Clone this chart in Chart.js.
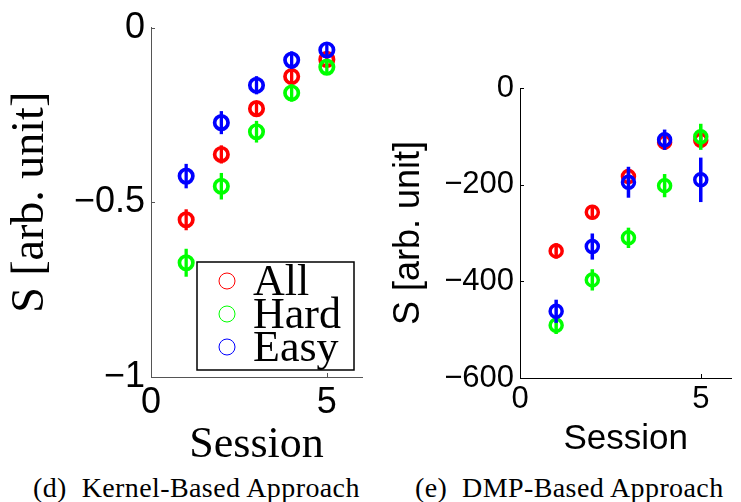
<!DOCTYPE html>
<html>
<head>
<meta charset="utf-8">
<script src="https://cdn.jsdelivr.net/npm/chart.js@4.4.0/dist/chart.umd.min.js"></script>
<style>
  body { margin: 0; background: #fff; }
  #wrap { position: relative; width: 741px; height: 502px; overflow: hidden; background: #fff; }
  canvas { position: absolute; top: 0; }
  #kernel { left: 0; }
  #dmp { left: 380px; }
  .caption { position: absolute; top: 474px; font-family: "Liberation Serif", serif; font-size: 28px;
             line-height: 28px; letter-spacing: 0.4px; white-space: pre; color: #000; }
</style>
</head>
<body>
<div id="wrap">
  <canvas id="kernel" width="375" height="467"></canvas>
  <canvas id="dmp" width="361" height="467"></canvas>
  <div class="caption" style="left:33px">(d)  Kernel-Based Approach</div>
  <div class="caption" style="left:415px">(e)  DMP-Based Approach</div>
</div>
<script>
// --- DATA ---
const sessions = [1, 2, 3, 4, 5];
const seriesNames = ["All", "Hard", "Easy"];

// (d) Kernel-Based
const kernelAll = [-0.55, -0.363, -0.232, -0.14, -0.091];
const kernelHard = [-0.673, -0.454, -0.298, -0.187, -0.113];
const kernelEasy = [-0.425, -0.272, -0.165, -0.093, -0.064];
const kernelAllErr = [0.030, 0.026, 0.020, 0.024, 0.019];
const kernelHardErr = [0.040, 0.038, 0.031, 0.025, 0.021];
const kernelEasyErr = [0.035, 0.033, 0.026, 0.025, 0.021];
const kernelYTicks = [-1, -0.5, 0];
const kernelYLabels = ["\u22121", "\u22120.5", "0"];

// (e) DMP-Based
const dmpAll = [-337, -257, -183, -112, -108];
const dmpHard = [-491, -397, -310, -202, -101];
const dmpEasy = [-462, -328, -195, -107, -190];
const dmpAllErr = [16, 15, 16, 16, 15];
const dmpHardErr = [18, 22, 21, 24, 27];
const dmpEasyErr = [24, 27, 32, 21, 46];
const dmpYTicks = [-600, -400, -200, 0];
const dmpYLabels = ["\u2212600", "\u2212400", "\u2212200", "0"];

const xTicks = [0, 5];
const xLabels = ["0", "5"];

const colors = ["#ff0000", "#00ff00", "#0000ff"];

// --- PLUGINS ---
// vertical error bars, drawn just under each dataset's circles
const errorBars = {
    id: "errorBars",
    beforeDatasetDraw(chart, args) {
        const ds = chart.data.datasets[args.index];
        if (!ds.errors) return;
        const { x, y } = chart.scales;
        const ctx = chart.ctx;
        ctx.save();
        ctx.strokeStyle = ds.borderColor;
        ctx.lineWidth = ds.errorWidth;
        ds.data.forEach((p, i) => {
            const px = x.getPixelForValue(p.x);
            ctx.beginPath();
            ctx.moveTo(px, y.getPixelForValue(p.y - ds.errors[i]));
            ctx.lineTo(px, y.getPixelForValue(p.y + ds.errors[i]));
            ctx.stroke();
        });
        ctx.restore();
    }
};

// small inward tick marks like matlab
const innerTicks = {
    id: "innerTicks",
    afterDraw(chart) {
        const { x, y } = chart.scales;
        const a = chart.chartArea;
        const ctx = chart.ctx;
        ctx.save();
        ctx.strokeStyle = chart.options.scales.y.border.color;
        ctx.lineWidth = 1;
        y.ticks.forEach(t => {
            const py = Math.round(y.getPixelForValue(t.value)) + 0.5;
            ctx.beginPath(); ctx.moveTo(a.left, py); ctx.lineTo(a.left + 4, py); ctx.stroke();
        });
        x.ticks.forEach(t => {
            const px = Math.round(x.getPixelForValue(t.value)) + 0.5;
            ctx.beginPath(); ctx.moveTo(px, a.bottom); ctx.lineTo(px, a.bottom - 4); ctx.stroke();
        });
        ctx.restore();
    }
};

// boxed legend inside the axes (bottom right)
const boxLegend = {
    id: "boxLegend",
    afterDraw(chart, args, opts) {
        if (!opts.show) return;
        const a = chart.chartArea;
        const ctx = chart.ctx;
        const right = a.right - opts.marginRight;
        const bottom = a.bottom - opts.marginBottom;
        const left = right - opts.width;
        const top = bottom - opts.height;
        ctx.save();
        ctx.fillStyle = "#fff";
        ctx.fillRect(left, top, opts.width, opts.height);
        ctx.strokeStyle = "#000";
        ctx.lineWidth = 1.5;
        ctx.strokeRect(left, top, opts.width, opts.height);
        ctx.font = opts.font;
        ctx.textBaseline = "middle";
        ctx.fillStyle = "#000";
        chart.data.datasets.forEach((ds, i) => {
            const cy = top + opts.firstRow + i * opts.rowStep;
            ctx.strokeStyle = ds.borderColor;
            ctx.lineWidth = 1;
            ctx.beginPath();
            ctx.arc(left + opts.markerX, cy, 8, 0, Math.PI * 2);
            ctx.stroke();
            ctx.fillText(ds.label, left + opts.textX, cy + 2);
        });
        ctx.restore();
    }
};

// --- CHART BUILDER ---
function makePanel(id, p) {
    const datasets = p.values.map((vals, i) => ({
        label: seriesNames[i],
        data: sessions.map((s, j) => ({ x: s, y: vals[j] })),
        errors: p.errors[i],
        errorWidth: p.errorWidth,
        borderColor: colors[i],
        backgroundColor: "rgba(0,0,0,0)",
        pointRadius: p.radius,
        pointBorderWidth: p.ring,
        showLine: false,
        order: 2 - i, // blue on top
        clip: false
    }));

    return new Chart(document.getElementById(id), {
        type: "scatter",
        data: { datasets },
        plugins: [errorBars, innerTicks, boxLegend],
        options: {
            responsive: false,
            animation: false,
            events: [],
            layout: { padding: p.padding },
            plugins: {
                legend: { display: false },
                tooltip: { enabled: false },
                boxLegend: p.legend
            },
            scales: {
                x: {
                    type: "linear",
                    min: 0,
                    max: p.xMax,
                    border: { color: p.axisColor, width: 1 },
                    grid: { display: false, drawTicks: false },
                    ticks: {
                        color: "#000",
                        padding: p.xTickPad,
                        font: { family: "Liberation Sans", size: p.tickSize, lineHeight: 1 },
                        callback: (v, i) => xLabels[i]
                    },
                    afterBuildTicks: s => { s.ticks = xTicks.map(v => ({ value: v })); },
                    afterFit: s => { s.height = p.xAxisHeight; },
                    title: {
                        display: true,
                        text: "Session",
                        color: "#000",
                        font: p.titleFont,
                        padding: { top: 0, bottom: p.xTitlePad }
                    }
                },
                y: {
                    type: "linear",
                    min: p.yTicks[0],
                    max: p.yTicks[p.yTicks.length - 1],
                    border: { color: p.axisColor, width: 1 },
                    grid: { display: false, drawTicks: false },
                    ticks: {
                        color: "#000",
                        padding: 6,
                        font: { family: "Liberation Sans", size: p.tickSize, lineHeight: 1.2 },
                        callback: (v, i) => p.yLabels[i]
                    },
                    afterBuildTicks: s => { s.ticks = p.yTicks.map(v => ({ value: v })); },
                    afterFit: s => { s.width = p.yAxisWidth; },
                    title: {
                        display: true,
                        text: "S [arb. unit]",
                        color: "#000",
                        font: p.yTitleFont,
                        padding: { top: p.yTitlePad, bottom: 0 }
                    }
                }
            }
        }
    });
}

// --- PANELS ---
makePanel("kernel", {
    values: [kernelAll, kernelHard, kernelEasy],
    errors: [kernelAllErr, kernelHardErr, kernelEasyErr],
    yTicks: kernelYTicks,
    yLabels: kernelYLabels,
    xMax: 6,
    radius: 6.7,
    ring: 3.7,
    errorWidth: 3.3,
    axisColor: "#555",
    tickSize: 36,
    padding: { top: 24, right: 13, bottom: 0, left: 0 },
    yAxisWidth: 151,
    xAxisHeight: 90,
    xTickPad: 8,
    xTitlePad: 0,
    titleFont: { family: "'Liberation Serif'", size: 44, lineHeight: 1 },
    yTitleFont: { family: "'Liberation Serif'", size: 46, lineHeight: 1 },
    yTitlePad: 8,
    legend: {
        show: true, width: 157, height: 108, marginRight: 8, marginBottom: 7,
        markerX: 30, textX: 56, firstRow: 19, rowStep: 33,
        font: "44px 'Liberation Serif'"
    }
});

makePanel("dmp", {
    values: [dmpAll, dmpHard, dmpEasy],
    errors: [dmpAllErr, dmpHardErr, dmpEasyErr],
    yTicks: dmpYTicks,
    yLabels: dmpYLabels,
    xMax: 5.85,
    radius: 6,
    ring: 3.5,
    errorWidth: 3.5,
    axisColor: "#000",
    tickSize: 31,
    padding: { top: 88, right: 0, bottom: 0, left: 0 },
    yAxisWidth: 140,
    xAxisHeight: 89,
    xTickPad: 6,
    xTitlePad: 10,
    titleFont: { family: "'Liberation Sans'", size: 35, lineHeight: 1 },
    yTitleFont: { family: "'Liberation Sans'", size: 36, lineHeight: 1 },
    yTitlePad: 11,
    legend: { show: false }
});
</script>
</body>
</html>
